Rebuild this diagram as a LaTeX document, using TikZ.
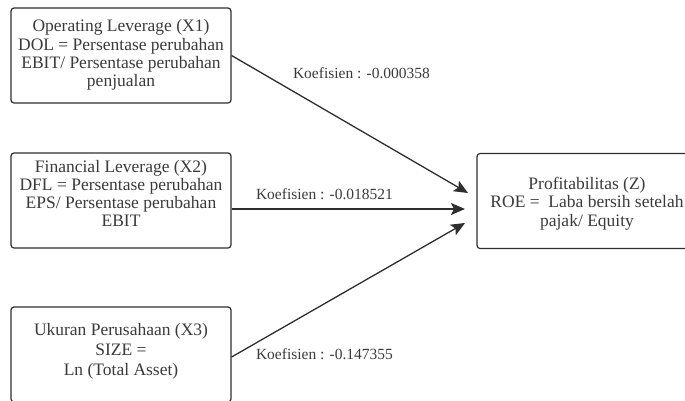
\documentclass[tikz,border=0pt]{standalone}
\usepackage{fontspec}
\setmainfont{Liberation Serif}
\usetikzlibrary{arrows.meta,calc}
\definecolor{edge}{HTML}{2E2E2E}
\definecolor{ink}{HTML}{3A3A3A}
\tikzset{
  varbox/.style={draw=edge, line width=1.2pt, rounded corners=3pt,
    minimum width=220pt, minimum height=95pt, inner sep=0pt},
  boxtext/.style={text=ink, align=center, inner sep=0pt, anchor=north,
    font=\fontsize{17.5}{18.2}\selectfont},
  coef/.style={text=ink, inner sep=0pt, anchor=base,
    font=\fontsize{15.5}{18}\selectfont},
  path arrow/.style={draw=edge, line width=1.3pt,
    -{Stealth[length=14pt,width=12pt,inset=3pt]}}
}
\begin{document}
\begin{tikzpicture}[x=1pt,y=-1pt]
\useasboundingbox (0,0) rectangle (685,400);

% variable boxes
\node[varbox] (x1) at (121,55.5) {};
\node[varbox] (x2) at (121,200.5) {};
\node[varbox] (x3) at (121,354.5) {};
\node[varbox] (z)  at (587,201) {};

% box contents
\node[boxtext] (x1t) at (121,19.0) {\strut Operating Leverage (X1)\\DOL = Persentase perubahan\\EBIT/ Persentase perubahan\\penjualan};
\node[boxtext] (x2t) at (121,159.3) {\strut Financial Leverage (X2)\\DFL = Persentase perubahan\\EPS/ Persentase perubahan\\EBIT};
\node[boxtext, font=\fontsize{17.5}{20}\selectfont] (x3t) at (121,321) {\strut Ukuran Perusahaan (X3)\\SIZE =\\Ln (Total Asset)};
\node[boxtext, font=\fontsize{17.5}{18.5}\selectfont] (zt) at (587,176) {\strut Profitabilitas (Z)\\ROE =~ Laba bersih setelah\\pajak/ Equity};

% arrow ends
\coordinate (s2) at ($(x2.east)+(0,8.5)$);
\coordinate (s3) at ($(x3.east)+(0,2.5)$);
\coordinate (t1) at (468,193);
\coordinate (t2) at (465,209);
\coordinate (t3) at (465,223);

% paths
\draw[path arrow] (x1.east) -- (t1);
\draw[path arrow] (s2) -- (t2);
\draw[path arrow] (s3) -- (t3);

% coefficients
\node[coef] (c1) at (361.5,78) {Koefisien : -0.000358};
\node[coef] (c2) at (324.5,199) {Koefisien : -0.018521};
\node[coef] (c3) at (324.5,359.5) {Koefisien : -0.147355};
\end{tikzpicture}
\end{document}
